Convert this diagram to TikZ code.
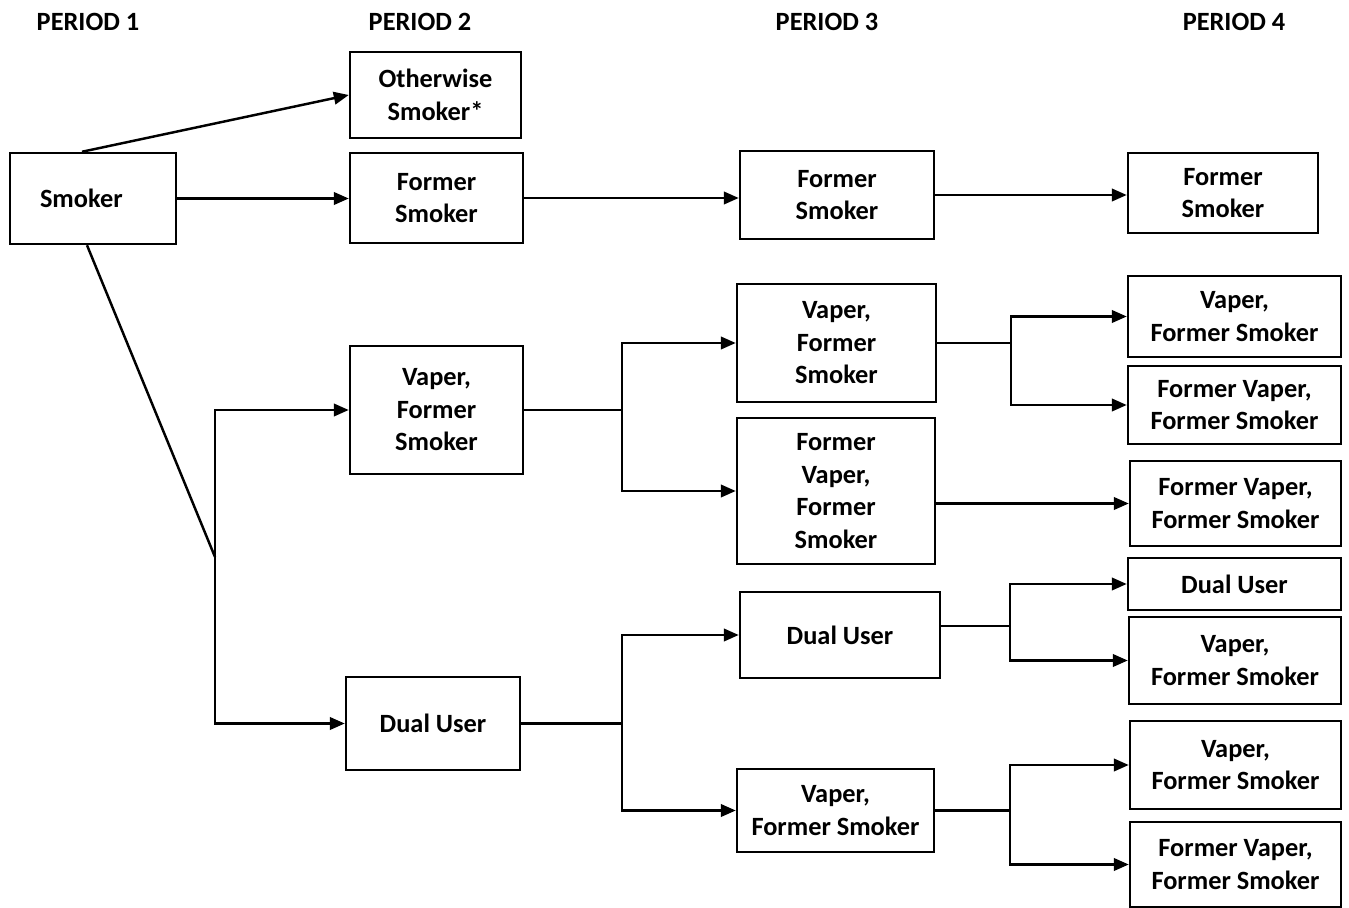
\documentclass[tikz,border=0pt]{standalone}
\usepackage{fontspec}
\setmainfont{Carlito}
\usetikzlibrary{arrows.meta}

\begin{document}
\begin{tikzpicture}[line width=1.4pt, >={Triangle[length=0.3cm,width=0.25cm]},
    box/.style={draw, align=center, inner sep=0pt, font=\bfseries\fontsize{15}{18.5}\selectfont},
    head/.style={font=\bfseries\fontsize{15}{18.5}\selectfont}]
            \useasboundingbox (0,0) rectangle (26.98,-18.16);
            \node [head] (p1) at (1.76,-0.44) {PERIOD 1};
            \node [head] (p2) at (8.40,-0.44) {PERIOD 2};
            \node [head] (p3) at (16.54,-0.44) {PERIOD 3};
            \node [head] (p4) at (24.68,-0.44) {PERIOD 4};
            \node [box, minimum width=3.32cm, minimum height=1.82cm, inner xsep=0.6cm, text width=2.12cm, align=left] (smoker) at (1.86,-3.97) {Smoker};
            \node [box, minimum width=3.42cm, minimum height=1.72cm] (other) at (8.71,-1.90) {Otherwise\\Smoker*};
            \node [box, minimum width=3.46cm, minimum height=1.80cm] (fs2) at (8.73,-3.96) {Former\\Smoker};
            \node [box, minimum width=3.46cm, minimum height=2.56cm] (vfs2) at (8.73,-8.20) {Vaper,\\Former\\Smoker};
            \node [box, minimum width=3.48cm, minimum height=1.86cm] (dual2) at (8.66,-14.47) {Dual User};
            \node [box, minimum width=3.88cm, minimum height=1.76cm] (fs3) at (16.74,-3.90) {Former\\Smoker};
            \node [box, minimum width=3.98cm, minimum height=2.36cm] (vfs3) at (16.73,-6.86) {Vaper,\\Former\\Smoker};
            \node [box, minimum width=3.96cm, minimum height=2.92cm] (fvfs3) at (16.72,-9.82) {Former\\Vaper,\\Former\\Smoker};
            \node [box, minimum width=4.00cm, minimum height=1.72cm] (dual3) at (16.80,-12.70) {Dual User};
            \node [box, minimum width=3.94cm, minimum height=1.66cm] (vfs3b) at (16.71,-16.21) {Vaper,\\Former Smoker};
            \node [box, minimum width=3.80cm, minimum height=1.60cm] (fs4) at (24.46,-3.86) {Former\\Smoker};
            \node [box, minimum width=4.26cm, minimum height=1.62cm] (vfs4a) at (24.69,-6.33) {Vaper,\\Former Smoker};
            \node [box, minimum width=4.26cm, minimum height=1.56cm] (fvfs4a) at (24.69,-8.10) {Former Vaper,\\Former Smoker};
            \node [box, minimum width=4.22cm, minimum height=1.70cm] (fvfs4b) at (24.71,-10.07) {Former Vaper,\\Former Smoker};
            \node [box, minimum width=4.26cm, minimum height=1.04cm] (dual4) at (24.69,-11.68) {Dual User};
            \node [box, minimum width=4.24cm, minimum height=1.74cm] (vfs4b) at (24.70,-13.21) {Vaper,\\Former Smoker};
            \node [box, minimum width=4.22cm, minimum height=1.76cm] (vfs4c) at (24.71,-15.30) {Vaper,\\Former Smoker};
            \node [box, minimum width=4.22cm, minimum height=1.70cm] (fvfs4c) at (24.71,-17.29) {Former Vaper,\\Former Smoker};
            \coordinate (split1) at (4.30,-11.14);
            \coordinate (split2) at (12.44,-8.20);
            \coordinate (split3) at (12.44,-14.47);
            \coordinate (split4) at (20.22,-6.86);
            \coordinate (split5) at (20.20,-12.52);
            \coordinate (split6) at (20.20,-16.21);
            \draw [->] ([xshift=-0.22cm]smoker.north) -- (other.west);
            \draw [->] (smoker.east) -- (smoker.east -| fs2.west);
            \draw ([xshift=-0.12cm]smoker.south) -- (split1);
            \draw [->] (split1) |- (vfs2.west);
            \draw [->] (split1) |- (dual2.west);
            \draw [->] (fs2.east) -- (fs2.east -| fs3.west);
            \draw [->] (fs3.east) -- (fs3.east -| fs4.west);
            \draw (vfs2.east) -- (split2);
            \draw [->] (split2) |- (vfs3.west);
            \draw [->] (split2) |- (fvfs3.west);
            \draw (dual2.east) -- (split3);
            \draw [->] (split3) |- (dual3.west);
            \draw [->] (split3) |- (vfs3b.west);
            \draw (vfs3.east) -- (split4);
            \draw [->] (split4) |- (vfs4a.west);
            \draw [->] (split4) |- (fvfs4a.west);
            \draw [->] (fvfs4b.west -| fvfs3.east) -- (fvfs4b.west);
            \draw (dual3.east |- split5) -- (split5);
            \draw [->] (split5) |- (dual4.west);
            \draw [->] (split5) |- (vfs4b.west);
            \draw (vfs3b.east) -- (split6);
            \draw [->] (split6) |- (vfs4c.west);
            \draw [->] (split6) |- (fvfs4c.west);
\end{tikzpicture}
\end{document}
